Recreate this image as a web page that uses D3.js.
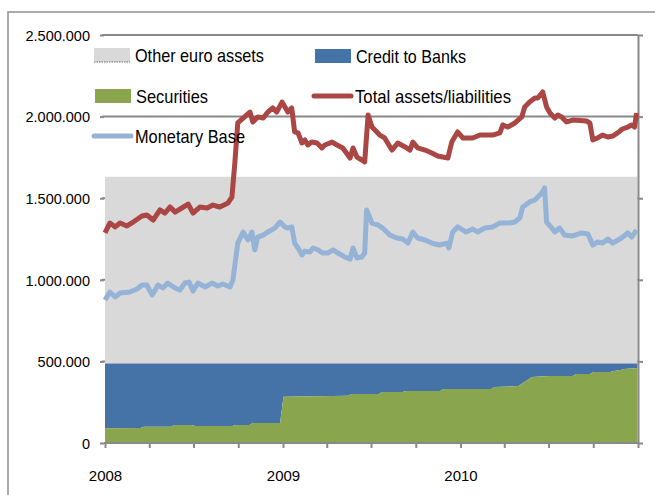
<!DOCTYPE html>
<html>
<head>
<meta charset="utf-8">
<script src="https://cdn.jsdelivr.net/npm/d3@7"></script>
<style>
  body { margin: 0; background: #fff; }
  svg { display: block; }
</style>
</head>
<body>
<svg id="chart" width="655" height="495"></svg>
<script>
// Eurosystem balance sheet, weekly, EUR millions

// Total assets/liabilities
const totalDates = ["2008-01-01","2008-01-11","2008-01-22","2008-02-01","2008-02-15","2008-02-28","2008-03-17","2008-03-27","2008-04-09","2008-04-23",
  "2008-05-03","2008-05-14","2008-05-24","2008-06-07","2008-06-20","2008-06-30","2008-07-14","2008-07-29","2008-08-10","2008-08-24",
  "2008-09-10","2008-09-18","2008-09-24","2008-09-30","2008-10-11","2008-10-25","2008-10-31","2008-11-10","2008-11-21","2008-12-01",
  "2008-12-11","2008-12-19","2008-12-30",
  "2009-01-05","2009-01-11","2009-01-19","2009-01-25","2009-02-01","2009-02-09","2009-02-15",
  "2009-02-21","2009-03-01","2009-03-12","2009-03-22","2009-03-28","2009-04-12","2009-04-22","2009-05-04","2009-05-19","2009-05-25",
  "2009-06-02","2009-06-12","2009-06-18","2009-06-25","2009-07-03","2009-07-09","2009-07-19","2009-07-29","2009-08-13","2009-08-25",
  "2009-09-09","2009-09-19","2009-09-25","2009-10-05","2009-10-20","2009-11-03","2009-11-15","2009-12-06","2009-12-14","2009-12-26",
  "2010-01-06","2010-01-26","2010-02-10","2010-03-08","2010-03-23","2010-03-29","2010-04-08","2010-04-23","2010-05-07","2010-05-13",
  "2010-05-23","2010-06-03","2010-06-09","2010-06-19","2010-06-27","2010-07-04","2010-07-14","2010-07-20","2010-07-28","2010-08-07",
  "2010-08-20","2010-09-17","2010-09-24","2010-09-30","2010-10-10","2010-10-20","2010-10-31","2010-11-10","2010-11-20","2010-11-30",
  "2010-12-11","2010-12-19","2010-12-25","2010-12-29"];
const totalAssets = [1287000,1348000,1324000,1348000,1330000,1354000,1391000,1397000,1366000,1428000,
  1409000,1446000,1415000,1440000,1464000,1409000,1446000,1440000,1458000,1446000,
  1471000,1507000,1716000,1961000,1991000,2028000,1967000,1998000,1991000,2028000,
  2053000,2028000,2089000,
  2059000,2028000,2053000,1906000,1900000,1838000,1857000,
  1826000,1844000,1838000,1808000,1826000,1844000,1826000,1808000,1746000,1808000,
  1752000,1734000,1722000,2010000,1936000,1918000,1887000,1869000,1795000,1838000,
  1814000,1795000,1844000,1808000,1795000,1777000,1759000,1746000,1844000,1906000,
  1869000,1869000,1887000,1887000,1900000,1949000,1936000,1961000,1998000,2059000,
  2089000,2114000,2114000,2151000,2059000,2022000,1991000,2010000,1998000,1967000,
  1979000,1973000,1961000,1857000,1869000,1887000,1875000,1881000,1900000,1924000,
  1936000,1949000,1936000,2022000];

// Monetary Base
const baseDates = ["2008-01-01","2008-01-11","2008-01-22","2008-02-01","2008-02-21","2008-03-07","2008-03-17","2008-03-27","2008-04-07","2008-04-19",
  "2008-04-29","2008-05-09","2008-05-24","2008-06-03","2008-06-13","2008-06-22","2008-06-30","2008-07-10","2008-07-25","2008-08-08",
  "2008-08-20","2008-08-30","2008-09-14","2008-09-20","2008-09-30","2008-10-11","2008-10-21","2008-10-29","2008-11-04","2008-11-10",
  "2008-11-21","2008-12-01","2008-12-15","2008-12-26",
  "2009-01-05","2009-01-11","2009-01-19","2009-01-25","2009-02-01","2009-02-09",
  "2009-02-15","2009-02-25","2009-03-04","2009-03-14","2009-03-24","2009-04-03","2009-04-14","2009-04-24","2009-05-08","2009-05-19",
  "2009-05-25","2009-06-02","2009-06-12","2009-06-18","2009-06-22","2009-07-03","2009-07-15","2009-07-25","2009-08-09","2009-08-23",
  "2009-09-04","2009-09-15","2009-09-25","2009-10-05","2009-10-20","2009-11-03","2009-11-19","2009-12-04","2009-12-08","2009-12-16",
  "2009-12-26","2010-01-12","2010-01-26","2010-02-05","2010-02-20","2010-03-08","2010-03-23","2010-04-12","2010-04-23","2010-05-03",
  "2010-05-09","2010-05-23","2010-06-03","2010-06-17","2010-06-23","2010-06-27","2010-07-08","2010-07-14","2010-07-24","2010-08-03",
  "2010-08-18","2010-09-07","2010-09-20","2010-09-30","2010-10-10","2010-10-20","2010-10-31","2010-11-10","2010-11-28","2010-12-11",
  "2010-12-19","2010-12-25","2010-12-29"];
const monetaryBase = [876000,925000,895000,919000,925000,944000,968000,968000,907000,968000,
  950000,980000,950000,937000,980000,986000,931000,980000,956000,980000,
  962000,974000,956000,999000,1225000,1293000,1244000,1293000,1183000,1262000,
  1274000,1293000,1317000,1354000,
  1324000,1317000,1324000,1225000,1195000,1152000,
  1176000,1170000,1195000,1183000,1164000,1164000,1183000,1164000,1140000,1127000,
  1195000,1134000,1140000,1164000,1428000,1348000,1336000,1317000,1274000,1256000,
  1250000,1225000,1293000,1256000,1244000,1225000,1213000,1225000,1195000,1293000,
  1324000,1293000,1311000,1293000,1317000,1324000,1348000,1348000,1354000,1379000,
  1446000,1477000,1489000,1532000,1563000,1354000,1317000,1293000,1317000,1274000,
  1268000,1287000,1281000,1213000,1232000,1225000,1250000,1225000,1256000,1287000,
  1262000,1287000,1305000];

// Asset side, stacked
const stackDates = ["2008-01-01","2008-03-14","2008-03-21","2008-05-16","2008-05-23","2008-06-27","2008-07-04","2008-09-19","2008-09-26","2008-10-24",
  "2008-10-31","2008-12-26","2009-01-02","2009-05-15","2009-05-22","2009-07-17","2009-07-24","2009-09-04","2009-09-11","2009-11-20",
  "2009-11-27","2010-03-05","2010-03-12","2010-04-30","2010-05-28","2010-07-02","2010-08-20","2010-08-27","2010-09-24","2010-10-01",
  "2010-11-05","2010-11-12","2010-11-26","2010-12-03","2010-12-31"];
const securities = [90000,92000,100000,100000,110000,110000,104000,104000,110000,110000,
  122000,122000,284000,290000,300000,300000,312000,312000,319000,319000,
  331000,331000,343000,349000,404000,410000,410000,423000,423000,435000,
  435000,441000,447000,453000,460000];
const creditToBanks = [397000,395000,387000,387000,377000,377000,383000,383000,377000,377000,
  365000,365000,203000,197000,187000,187000,175000,175000,168000,168000,
  156000,156000,144000,138000,83000,77000,77000,64000,64000,52000,
  52000,46000,40000,34000,27000];
const otherEuroAssets = [1145000,1145000,1145000,1145000,1145000,1145000,1145000,1145000,1145000,1145000,
  1145000,1145000,1145000,1145000,1145000,1145000,1145000,1145000,1145000,1145000,
  1145000,1145000,1145000,1145000,1145000,1145000,1145000,1145000,1145000,1145000,
  1145000,1145000,1145000,1145000,1145000];

// Axes
const yTickValues = [0, 500000, 1000000, 1500000, 2000000, 2500000];
const yearLabels = ["2008", "2009", "2010"];

const parse = d3.timeParse("%Y-%m-%d");
const svg = d3.select("#chart");

const FONT = "'Liberation Sans', Arial, sans-serif";
const AXIS_GREY = "#898989";

const x = d3.scaleTime()
  .domain([parse("2008-01-01"), parse("2011-01-01")])
  .range([105, 638]);
const y = d3.scaleLinear().domain([0, 2500000]).range([443, 35]);

// chart frame
svg.append("path")
  .attr("d", "M8,495V12H655")
  .attr("fill", "none")
  .attr("stroke", "#8f8f8f")
  .attr("stroke-width", 1.5);

// horizontal gridlines
svg.append("g").selectAll("line").data(yTickValues.filter(v => v > 0)).join("line")
  .attr("x1", 102).attr("x2", 638)
  .attr("y1", d => y(d)).attr("y2", d => y(d))
  .attr("stroke", AXIS_GREY).attr("stroke-width", 2);

// stacked areas
const keys = ["Securities", "Credit to Banks", "Other euro assets"];
const colors = { "Securities": "#89A54E", "Credit to Banks": "#4572A7", "Other euro assets": "#D9D9D9" };
const rows = stackDates.map((d, i) => ({
  date: parse(d),
  "Securities": securities[i],
  "Credit to Banks": creditToBanks[i],
  "Other euro assets": otherEuroAssets[i]
}));
const stacked = d3.stack().keys(keys)(rows);
const area = d3.area()
  .x(d => x(d.data.date))
  .y0(d => y(d[0]))
  .y1(d => y(d[1]));
svg.append("g").selectAll("path").data(stacked.slice().reverse()).join("path")
  .attr("d", area)
  .attr("fill", d => colors[d.key]);

// left axis: labels and short ticks
const fmt = d3.formatLocale({ decimal: ",", thousands: ".", grouping: [3], currency: ["", ""] }).format(",");
const yAxis = svg.append("g")
  .attr("transform", "translate(104,0)")
  .call(d3.axisLeft(y).tickValues(yTickValues).tickFormat(fmt).tickSize(4).tickPadding(10));
yAxis.select(".domain").remove();
yAxis.selectAll("line").attr("stroke", AXIS_GREY).attr("stroke-width", 2);
yAxis.selectAll("text")
  .attr("font-family", FONT).attr("font-size", 14.5).attr("fill", "#000").attr("dy", "0.36em");

// right axis
const yRight = svg.append("g")
  .attr("transform", "translate(638,0)")
  .call(d3.axisRight(y).tickValues(yTickValues).tickFormat("").tickSize(5).tickSizeOuter(0));
yRight.select(".domain").attr("stroke", AXIS_GREY).attr("stroke-width", 2);
yRight.selectAll("line").attr("stroke", AXIS_GREY).attr("stroke-width", 2);

// time axis: quarterly ticks, year labels
const quarterTicks = d3.timeMonth.every(3).range(parse("2008-01-01"), parse("2011-01-02"));
const xAxis = svg.append("g")
  .attr("transform", "translate(0,443)")
  .call(d3.axisBottom(x).tickValues(quarterTicks).tickSize(5).tickSizeOuter(0).tickPadding(22)
    .tickFormat(d => {
      const yr = String(d.getFullYear());
      return d.getMonth() === 0 && yearLabels.includes(yr) ? yr : "";
    }));
xAxis.select(".domain").attr("stroke", AXIS_GREY).attr("stroke-width", 2)
  .attr("d", "M104,0H638");
xAxis.selectAll("line").attr("stroke", AXIS_GREY).attr("stroke-width", 2);
xAxis.selectAll("text").attr("font-family", FONT).attr("font-size", 15).attr("fill", "#000");

// lines
const line = d3.line().x(d => x(d.date)).y(d => y(d.value));
const lineSeries = [
  { name: "Total assets/liabilities", color: "#AA4643",
    values: totalDates.map((d, i) => ({ date: parse(d), value: totalAssets[i] })) },
  { name: "Monetary Base", color: "#95B3D7",
    values: baseDates.map((d, i) => ({ date: parse(d), value: monetaryBase[i] })) }
];
svg.append("g").selectAll("path").data(lineSeries.slice().reverse()).join("path")
  .attr("d", d => line(d.values))
  .attr("fill", "none")
  .attr("stroke", d => d.color)
  .attr("stroke-width", 5)
  .attr("stroke-linejoin", "round");

// legend
const legendItems = [
  { name: "Other euro assets", kind: "box", color: colors["Other euro assets"], x: 94, y: 55, w: 129 },
  { name: "Credit to Banks", kind: "box", color: colors["Credit to Banks"], x: 315, y: 56, w: 110 },
  { name: "Securities", kind: "box", color: colors["Securities"], x: 95, y: 96, w: 72 },
  { name: "Total assets/liabilities", kind: "line", color: "#AA4643", x: 314, y: 96, w: 156 },
  { name: "Monetary Base", kind: "line", color: "#95B3D7", x: 94, y: 136, w: 110 }
];
const lg = svg.append("g").selectAll("g").data(legendItems).join("g")
  .attr("transform", d => `translate(${d.x},${d.y})`);
lg.filter(d => d.kind === "box").append("rect")
  .attr("x", 0).attr("y", -7).attr("width", 36).attr("height", 14)
  .attr("fill", d => d.color);
lg.filter(d => d.name === "Other euro assets").append("line")
  .attr("x1", 0).attr("x2", 36).attr("y1", 7).attr("y2", 7)
  .attr("stroke", "#6e6e6e").attr("stroke-width", 1.2).attr("stroke-dasharray", "1.5,1");
lg.filter(d => d.kind === "line").append("line")
  .attr("x1", 0).attr("x2", 37).attr("y1", 0).attr("y2", 0)
  .attr("stroke", d => d.color).attr("stroke-width", 5).attr("stroke-linecap", "round");
lg.append("text")
  .attr("x", 41).attr("y", 6.5)
  .attr("font-family", FONT).attr("font-size", 19).attr("fill", "#000")
  .attr("textLength", d => d.w).attr("lengthAdjust", "spacingAndGlyphs")
  .text(d => d.name);
</script>
</body>
</html>
